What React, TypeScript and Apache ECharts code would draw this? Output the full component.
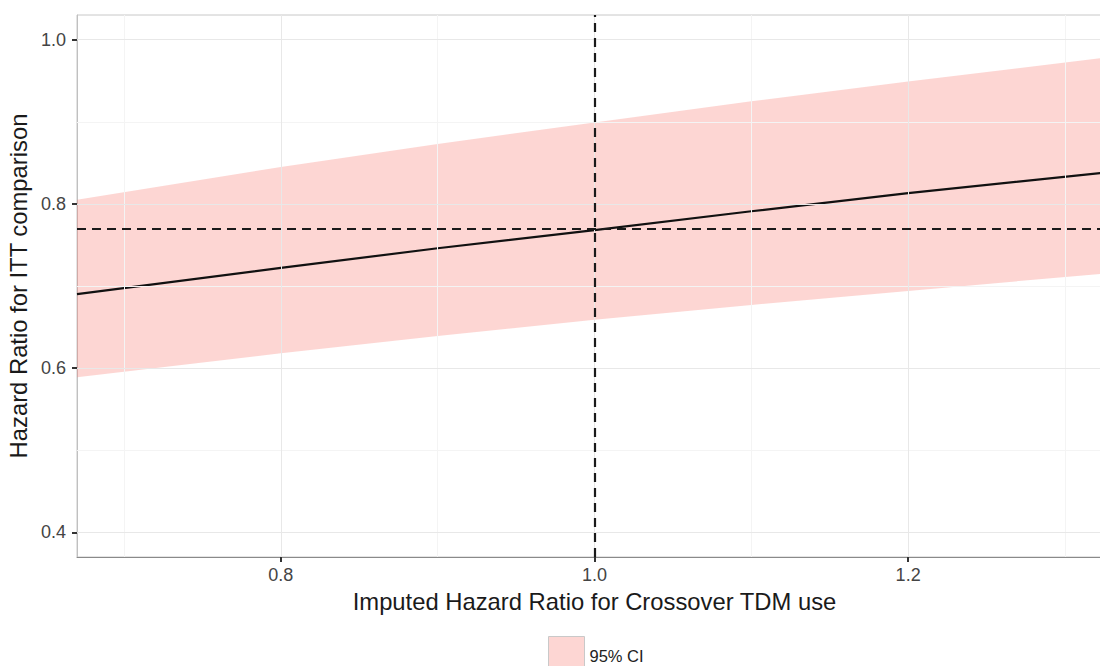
import React, { useEffect, useRef } from "react";
import * as echarts from "echarts";

// Imputed hazard ratio for crossover TDM use (x) and the resulting ITT hazard ratio
const xValues = [0.67, 0.8, 0.9, 1.0, 1.1, 1.2, 1.33];
const hrItt = [0.69, 0.722, 0.746, 0.768, 0.791, 0.813, 0.839];
const ciLower = [0.589, 0.618, 0.639, 0.659, 0.677, 0.694, 0.716];
const ciUpper = [0.805, 0.845, 0.873, 0.899, 0.925, 0.949, 0.979];

// Reference lines
const refX = 1.0;
const refY = 0.768;

// Axis ticks and grid lines
const xTicks = [0.8, 1.0, 1.2];
const xMinor = [0.7, 0.9, 1.1, 1.3];
const yTicks = [0.4, 0.6, 0.8, 1.0];
const yMinor = [0.5, 0.7, 0.9];

const FONT = "'Liberation Sans', Arial, Helvetica, sans-serif";
const RIBBON = "rgba(248,118,109,0.3)";

export default function App() {
  const ref = useRef<HTMLDivElement>(null);

  useEffect(() => {
    if (!ref.current) return;
    const chart = echarts.init(ref.current, undefined, { renderer: "svg" });

    const gridLines = [
      ...xMinor.map((v) => ({ xAxis: v, lineStyle: { color: "#f4f4f4", width: 1, type: "solid" } })),
      ...yMinor.map((v) => ({ yAxis: v, lineStyle: { color: "#f4f4f4", width: 1, type: "solid" } })),
      ...xTicks.map((v) => ({ xAxis: v, lineStyle: { color: "#e8e8e8", width: 1, type: "solid" } })),
      ...yTicks.map((v) => ({ yAxis: v, lineStyle: { color: "#e8e8e8", width: 1, type: "solid" } })),
    ];

    const dashStyle = { color: "#1a1a1a", width: 2.2, type: [9, 6] as any };

    chart.setOption({
      animation: false,
      textStyle: { fontFamily: FONT },
      grid: {
        left: 77,
        top: 15,
        bottom: 109,
        // the panel runs past the right edge of the page
        width: 1035,
        outerBoundsMode: "none",
        containLabel: false,
        show: true,
        borderColor: "#c8c8c8",
        borderWidth: 1,
        backgroundColor: "transparent",
      },
      legend: {
        left: 543,
        top: 631,
        itemWidth: 36,
        itemHeight: 39,
        itemGap: 10,
        textStyle: { fontSize: 16.5, color: "#222", fontFamily: FONT },
        data: [
          {
            name: "95% CI",
            icon: "rect",
            itemStyle: { color: RIBBON, borderColor: "#c9c9c9", borderWidth: 1 },
          },
        ],
      },
      xAxis: {
        type: "value",
        min: 0.67,
        max: 1.33,
        name: "Imputed Hazard Ratio for Crossover TDM use",
        nameLocation: "middle",
        nameGap: 32,
        nameTextStyle: { fontSize: 23.8, color: "#1a1a1a", fontFamily: FONT },
        axisLine: { show: true, onZero: false, lineStyle: { color: "#8a8a8a", width: 1 } },
        axisTick: { show: true, length: 5, lineStyle: { color: "#333", width: 2 }, customValues: xTicks },
        axisLabel: {
          show: true,
          customValues: xTicks,
          margin: 9,
          fontSize: 18,
          color: "#444",
          fontFamily: FONT,
          formatter: (v: number) => v.toFixed(1),
        },
        splitLine: { show: false },
      },
      yAxis: {
        type: "value",
        min: 0.37,
        max: 1.03,
        name: "Hazard Ratio for ITT comparison",
        nameLocation: "middle",
        nameRotate: 90,
        nameGap: 38,
        nameTextStyle: { fontSize: 23.8, color: "#1a1a1a", fontFamily: FONT },
        axisLine: { show: true, onZero: false, lineStyle: { color: "#c0c0c0", width: 1 } },
        axisTick: { show: true, length: 5, lineStyle: { color: "#333", width: 2 }, customValues: yTicks },
        axisLabel: {
          show: true,
          customValues: yTicks,
          margin: 11,
          fontSize: 18,
          color: "#444",
          fontFamily: FONT,
          formatter: (v: number) => v.toFixed(1),
        },
        splitLine: { show: false },
      },
      series: [
        {
          // background grid lines
          type: "line",
          name: "grid",
          z: 0,
          silent: true,
          data: [[xValues[0], hrItt[0]]],
          showSymbol: false,
          lineStyle: { width: 0 },
          markLine: {
            silent: true,
            symbol: "none",
            label: { show: false },
            data: gridLines,
          },
        },
        {
          // confidence band
          type: "custom",
          name: "95% CI",
          z: 1,
          clip: true,
          itemStyle: { color: RIBBON },
          data: [[xValues[0], ciLower[0]]],
          renderItem: (_params: any, api: any) => {
            const upper = xValues.map((x, i) => api.coord([x, ciUpper[i]]));
            const lower = xValues.map((x, i) => api.coord([x, ciLower[i]])).reverse();
            return {
              type: "polygon",
              shape: { points: [...upper, ...lower] },
              style: { fill: RIBBON, stroke: "none" },
            };
          },
        },
        {
          type: "line",
          name: "HR",
          z: 3,
          data: xValues.map((x, i) => [x, hrItt[i]]),
          showSymbol: false,
          lineStyle: { color: "#111", width: 2.2 },
          markLine: {
            silent: true,
            symbol: "none",
            label: { show: false },
            lineStyle: dashStyle,
            data: [{ xAxis: refX }, { yAxis: refY }],
          },
        },
      ],
    });

    return () => chart.dispose();
  }, []);

  return (
    <div
      ref={ref}
      style={{ position: "fixed", left: 0, top: 0, width: 1100, height: 666, background: "#fff" }}
    />
  );
}
